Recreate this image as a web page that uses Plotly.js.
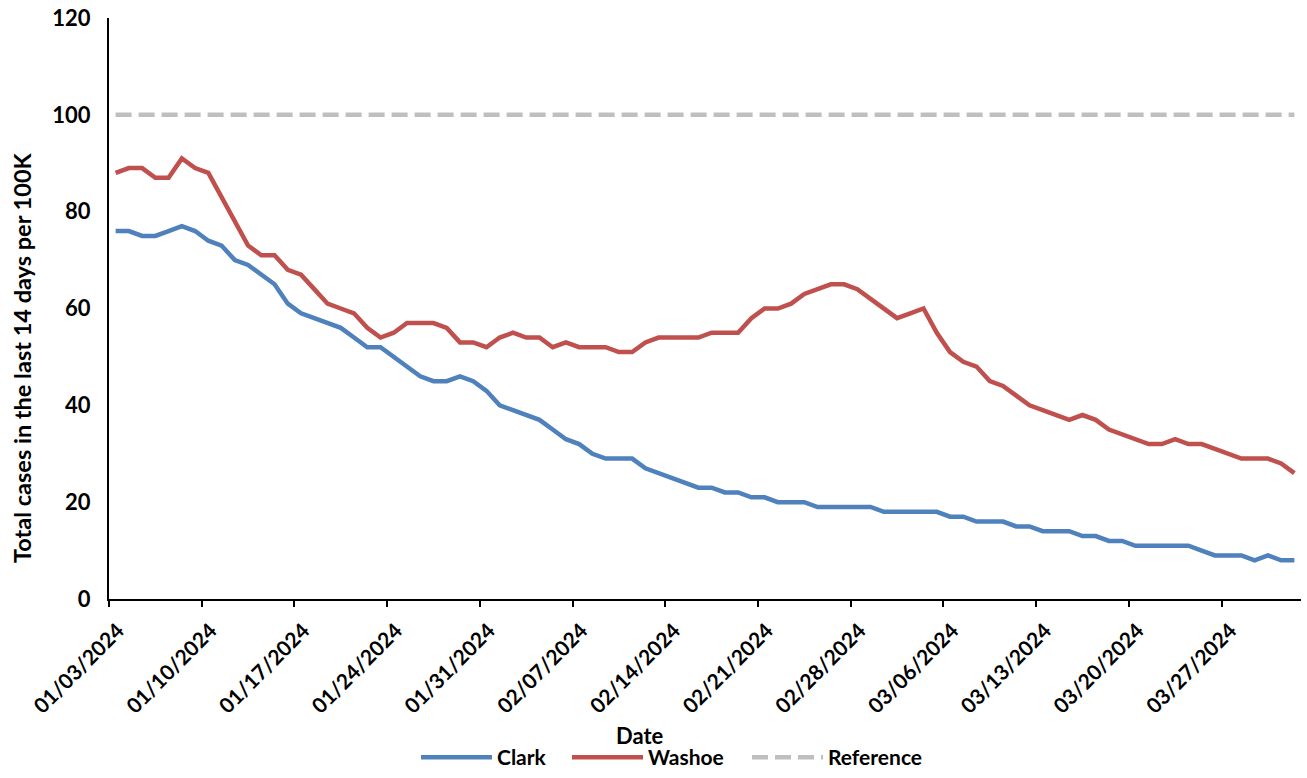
<!DOCTYPE html>
<html>
<head>
<meta charset="utf-8">
<script src="https://cdn.plot.ly/plotly-3.0.1.min.js"></script>
<style>html,body{margin:0;padding:0;background:#fff;}#chart{width:1307px;height:778px;}</style>
</head>
<body>
<div id="chart"></div>
<script>
const dates = [
 '2024-01-03','2024-01-04','2024-01-05','2024-01-06','2024-01-07','2024-01-08','2024-01-09','2024-01-10','2024-01-11','2024-01-12',
 '2024-01-13','2024-01-14','2024-01-15','2024-01-16','2024-01-17','2024-01-18','2024-01-19','2024-01-20','2024-01-21','2024-01-22',
 '2024-01-23','2024-01-24','2024-01-25','2024-01-26','2024-01-27','2024-01-28','2024-01-29','2024-01-30','2024-01-31','2024-02-01',
 '2024-02-02','2024-02-03','2024-02-04','2024-02-05','2024-02-06','2024-02-07','2024-02-08','2024-02-09','2024-02-10','2024-02-11',
 '2024-02-12','2024-02-13','2024-02-14','2024-02-15','2024-02-16','2024-02-17','2024-02-18','2024-02-19','2024-02-20','2024-02-21',
 '2024-02-22','2024-02-23','2024-02-24','2024-02-25','2024-02-26','2024-02-27','2024-02-28','2024-02-29','2024-03-01','2024-03-02',
 '2024-03-03','2024-03-04','2024-03-05','2024-03-06','2024-03-07','2024-03-08','2024-03-09','2024-03-10','2024-03-11','2024-03-12',
 '2024-03-13','2024-03-14','2024-03-15','2024-03-16','2024-03-17','2024-03-18','2024-03-19','2024-03-20','2024-03-21','2024-03-22',
 '2024-03-23','2024-03-24','2024-03-25','2024-03-26','2024-03-27','2024-03-28','2024-03-29','2024-03-30','2024-03-31','2024-04-01'
];
const clark = [
 76,76,75,75,76,77,76,74,73,70,69,67,65,61,59,58,57,56,54,52,52,50,
 48,46,45,45,46,45,43,40,39,38,37,35,33,32,30,29,29,29,27,26,25,24,23,23,22,22,21,21,
 20,20,20,19,19,19,19,19,18,18,18,18,18,17,17,16,16,16,15,15,
 14,14,14,13,13,12,12,11,11,11,11,11,10,9,9,9,8,9,8,8
];
const washoe = [
 88,89,89,87,87,91,89,88,83,78,73,71,71,68,67,64,61,60,59,56,54,55,
 57,57,57,56,53,53,52,54,55,54,54,52,53,52,52,52,51,51,53,54,54,54,54,55,55,55,58,60,
 60,61,63,64,65,65,64,62,60,58,59,60,55,51,49,48,45,44,42,40,39,38,
 37,38,37,35,34,33,32,32,33,32,32,31,30,29,29,29,28,26
];
const referenceValue = 100;
const tickDates = ['2024-01-03','2024-01-10','2024-01-17','2024-01-24','2024-01-31','2024-02-07','2024-02-14',
                   '2024-02-21','2024-02-28','2024-03-06','2024-03-13','2024-03-20','2024-03-27'];
const tickLabels = ['01/03/2024','01/10/2024','01/17/2024','01/24/2024','01/31/2024','02/07/2024','02/14/2024',
                    '02/21/2024','02/28/2024','03/06/2024','03/13/2024','03/20/2024','03/27/2024'];
const xTitle = 'Date';
const yTitle = 'Total cases in the last 14 days per 100K';

const xs = dates.map(d => d + ' 12:00');
const FONT = 'Lato, "Open Sans", sans-serif';
const f = (size) => ({family: FONT, size: size, color: '#000', weight: 700});

const traces = [
  {x: xs, y: clark, name: 'Clark', type: 'scatter', mode: 'lines', legend: 'legend',
   line: {color: '#4F81BD', width: 4.5}},
  {x: xs, y: washoe, name: 'Washoe', type: 'scatter', mode: 'lines', legend: 'legend2',
   line: {color: '#C0504D', width: 4.5}},
  {x: xs, y: dates.map(() => referenceValue), name: 'Reference', type: 'scatter', mode: 'lines', legend: 'legend3',
   line: {color: '#BFBFBF', width: 4.5, dash: '16px,7px'}}
];

const legendBase = (xpx) => ({orientation: 'h', xref: 'container', yref: 'container',
  x: xpx / 1307, xanchor: 'left', y: -0.008, yanchor: 'bottom',
  font: f(21), itemwidth: 71, bgcolor: 'rgba(0,0,0,0)'});

const layout = {
  width: 1307, height: 778,
  margin: {l: 109, r: 6, t: 18, b: 179, autoexpand: false},
  paper_bgcolor: '#fff', plot_bgcolor: '#fff',
  font: f(20),
  showlegend: true,
  legend: legendBase(416),
  legend2: legendBase(567),
  legend3: legendBase(747),
  xaxis: {
    type: 'date', automargin: false,
    range: ['2024-01-03', '2024-04-02'],
    tickmode: 'array', tickvals: tickDates, ticktext: tickLabels,
    tickangle: -45,
    ticks: 'outside', ticklen: 6, tickwidth: 2, tickcolor: '#000',
    ticklabelstandoff: 3, ticklabelshift: 9,
    showline: true, linecolor: '#000', linewidth: 2,
    showgrid: false, zeroline: false,
    tickfont: f(21)
  },
  yaxis: {
    automargin: false,
    range: [0, 120], dtick: 20, tick0: 0,
    ticks: '', showline: true, linecolor: '#000', linewidth: 2,
    showgrid: false, zeroline: false,
    ticklabelstandoff: 12,
    tickfont: f(22)
  },
  annotations: [
    {text: xTitle, xref: 'paper', yref: 'paper', x: 0.4455, y: -0.2358,
     xanchor: 'center', yanchor: 'middle', showarrow: false, font: f(22)},
    {text: yTitle, xref: 'paper', yref: 'paper', x: -0.073, y: 0.4165, textangle: -90,
     xanchor: 'center', yanchor: 'middle', showarrow: false, font: f(23.5)}
  ]
};

Plotly.newPlot('chart', traces, layout, {displayModeBar: false, responsive: false});
</script>
</body>
</html>
